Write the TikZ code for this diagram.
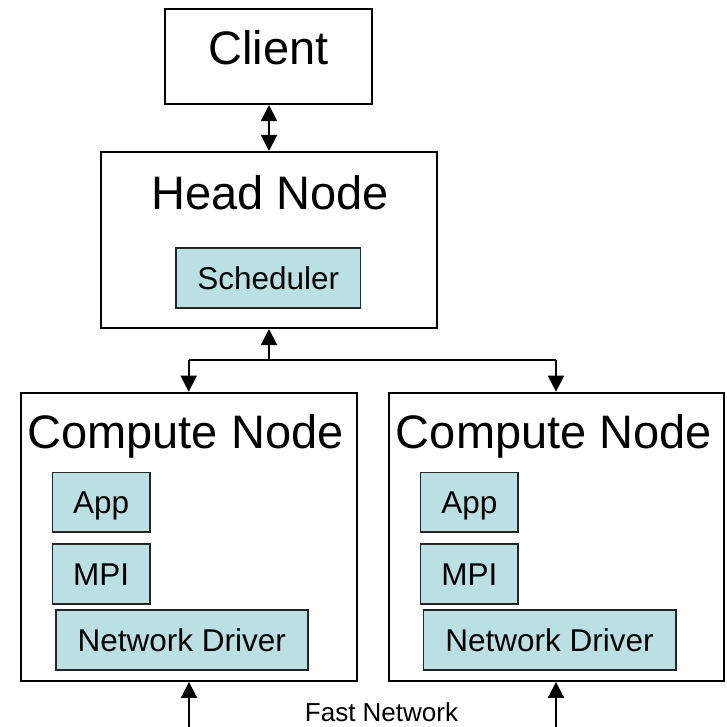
\documentclass[tikz,border=0pt]{standalone}
\usepackage{fontspec}
\setmainfont{Liberation Sans}
\usetikzlibrary{arrows.meta}
\definecolor{boxfill}{HTML}{BBE0E3}
\tikzset{
  bigbox/.style={draw=black, line width=2pt, fill=white, inner sep=0pt},
  smallbox/.style={draw=black!85, line width=1.6pt, fill=boxfill, inner sep=0pt,
    font=\fontsize{31.5}{36}\selectfont, text height=22.6pt, text depth=0pt},
  bigtext/.style={font=\fontsize{47}{54}\selectfont, anchor=base, inner sep=0pt},
  smalltext/.style={font=\fontsize{26}{30}\selectfont, anchor=base, inner sep=0pt},
  arr/.style={line width=2pt, -{Triangle[width=16pt,length=16pt]}},
  dblarr/.style={line width=2pt, {Triangle[width=16pt,length=16pt]}-{Triangle[width=16pt,length=16pt]}},
  link/.style={line width=2pt}
}
\begin{document}
\begin{tikzpicture}[x=1pt,y=-1pt]
\useasboundingbox (0,0) rectangle (726,727);
% big boxes
\node[bigbox, minimum width=207pt, minimum height=95.5pt] (client) at (268.5,56.3) {};
\node[bigbox, minimum width=336pt, minimum height=176pt] (head) at (268.7,240) {};
\node[bigbox, minimum width=336pt, minimum height=288.3pt] (cl) at (188.7,536.8) {};
\node[bigbox, minimum width=335.3pt, minimum height=288.3pt] (cr) at (556.7,536.8) {};
% titles
\node[bigtext] (clientt) at (268.5,65) {Client};
\node[bigtext] (headt) at (270,210) {Head Node};
\node[bigtext] (clt) at (185.5,448.3) {Compute Node};
\node[bigtext] (crt) at (554,448.3) {Compute Node};
% inner boxes
\node[smallbox, minimum width=184.7pt, minimum height=60pt] (sched) at (268.3,278) {Scheduler};
\node[smallbox, minimum width=97.7pt, minimum height=59.3pt] (appl) at (101.2,502.3) {App};
\node[smallbox, minimum width=97.7pt, minimum height=60pt] (mpil) at (101.2,574) {MPI};
\node[smallbox, minimum width=252pt, minimum height=60pt] (ndl) at (181.7,640) {Network Driver};
\node[smallbox, minimum width=97.3pt, minimum height=59.3pt] (appr) at (469.3,502.3) {App};
\node[smallbox, minimum width=97.3pt, minimum height=60pt] (mpir) at (469.3,574) {MPI};
\node[smallbox, minimum width=252.4pt, minimum height=60pt] (ndr) at (549.5,640) {Network Driver};
% connectors
\coordinate (j) at (269,360);
\coordinate (jl) at (188.7,360);
\coordinate (jr) at (556,360);
\coordinate (bl) at (189,727);
\coordinate (br) at (556,727);
\draw[dblarr] (client.south -| j) -- (head.north -| j);
\draw[arr] (j) -- (j |- head.south);
\draw[link] (jl) -- (jr);
\draw[arr] (jl) -- (jl |- cl.north);
\draw[arr] (jr) -- (jr |- cr.north);
\draw[arr] (bl) -- (bl |- cl.south);
\draw[arr] (br) -- (br |- cr.south);
\node[smalltext] (fast) at (381.5,721.7) {Fast Network};
\end{tikzpicture}
\end{document}
